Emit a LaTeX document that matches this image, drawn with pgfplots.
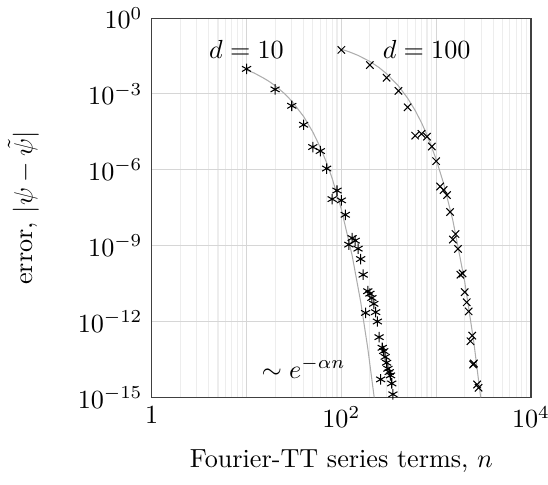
\documentclass[border=0pt]{standalone}
\usepackage{pgfplots}
\pgfplotsset{compat=1.18}
\definecolor{majgrid}{gray}{0.84}
\definecolor{mingrid}{gray}{0.93}
\definecolor{fitgray}{gray}{0.68}
\begin{document}
\begin{tikzpicture}
\begin{loglogaxis}[
  scale only axis, width=145pt, height=145pt,
  xmin=1, xmax=1e4, ymin=1e-15, ymax=1,
  xtick={1,10,100,1000,10000}, xticklabels={$1$,,$10^2$,,$10^4$},
  minor xtick={2,3,4,5,6,7,8,9,20,30,40,50,60,70,80,90,200,300,400,500,600,700,800,900,2000,3000,4000,5000,6000,7000,8000,9000},
  ytick={1,1e-3,1e-6,1e-9,1e-12,1e-15}, minor ytick={},
  xmajorgrids, xminorgrids, ymajorgrids,
  major grid style={majgrid}, minor grid style={mingrid},
  axis line style={black!75}, tick style={draw=none},
  xlabel={Fourier-TT series terms, $n$},
  ylabel={error, $|\psi-\tilde{\psi}|$},
  xlabel style={yshift=-1.5pt}, ylabel style={yshift=8pt},
]
% fitted decay, d=10
\addplot[fitgray, thin] coordinates {(10,8.69e-3)(12,6.75e-3)(15,4.30e-3)(17,3.25e-3)(20,2.13e-3)(25,1.05e-3)(30,5.21e-4)(40,1.28e-4)(50,3.13e-5)(60,7.66e-6)(70,1.88e-6)(80,4.59e-7)(100,2.75e-8)(130,4.05e-10)(160,5.94e-12)(190,8.73e-14)(222,1e-15)};
% fitted decay, d=100
\addplot[fitgray, thin] coordinates {(100,5.84e-2)(120,4.67e-2)(150,3.34e-2)(200,1.92e-2)(250,1.10e-2)(300,6.29e-3)(400,2.07e-3)(500,6.78e-4)(600,2.23e-4)(700,7.31e-5)(800,2.40e-5)(1000,2.59e-6)(1200,2.79e-7)(1500,9.87e-9)(2000,3.77e-11)(2500,1.44e-13)(2946,1e-15)};
% d=10
\addplot[only marks, mark=asterisk, black] coordinates {
(10,9.77e-3)(20,1.51e-3)(30,3.39e-4)(40,6.03e-5)(50,7.94e-6)(60,5.50e-6)(70,1.12e-6)
(80,6.92e-8)(90,1.51e-7)(100,6.17e-8)(110,1.66e-8)(120,1.10e-9)(130,2.00e-9)(140,1.58e-9)
(150,7.59e-10)(160,2.95e-10)(170,7.08e-11)(180,2.19e-12)(190,1.58e-11)(200,1.26e-11)
(210,8.51e-12)(220,5.01e-12)(230,2.34e-12)(240,1.0e-12)(250,2.40e-13)(260,5.13e-15)
(270,9.12e-14)(280,6.76e-14)(290,3.98e-14)(300,2.34e-14)(310,1.35e-14)(320,1.0e-14)
(330,7.41e-15)(340,3.55e-15)(350,1.32e-15)};
% d=100
\addplot[only marks, mark=x, black] coordinates {
(100,5.50e-2)(200,1.38e-2)(300,4.37e-3)(400,1.32e-3)(500,2.95e-4)(600,2.24e-5)(700,2.63e-5)
(800,2.04e-5)(900,8.32e-6)(1000,2.19e-6)(1100,2.19e-7)(1200,1.58e-7)(1300,1.0e-7)
(1400,2.14e-8)(1500,1.74e-9)(1600,2.88e-9)(1700,7.41e-10)(1800,7.08e-11)(1900,7.94e-11)
(2000,1.45e-11)(2100,5.75e-12)(2200,2.51e-12)(2300,1.66e-13)(2400,2.75e-13)(2450,2.0e-14)
(2500,2.19e-14)(2700,3.24e-15)(2800,2.40e-15)};
\node at (axis cs:10,0.055) {$d=10$};
\node at (axis cs:794,0.055) {$d=100$};
\node at (axis cs:40,1.5e-14) {$\sim e^{-\alpha n}$};
\end{loglogaxis}
% crop tight to the drawn ink, as the reference is
\pgfresetboundingbox
\path ([shift={(-58pt,-33.3pt)}]current axis.south west) rectangle ([shift={(6.5pt,6.9pt)}]current axis.north east);
\end{tikzpicture}
\end{document}
